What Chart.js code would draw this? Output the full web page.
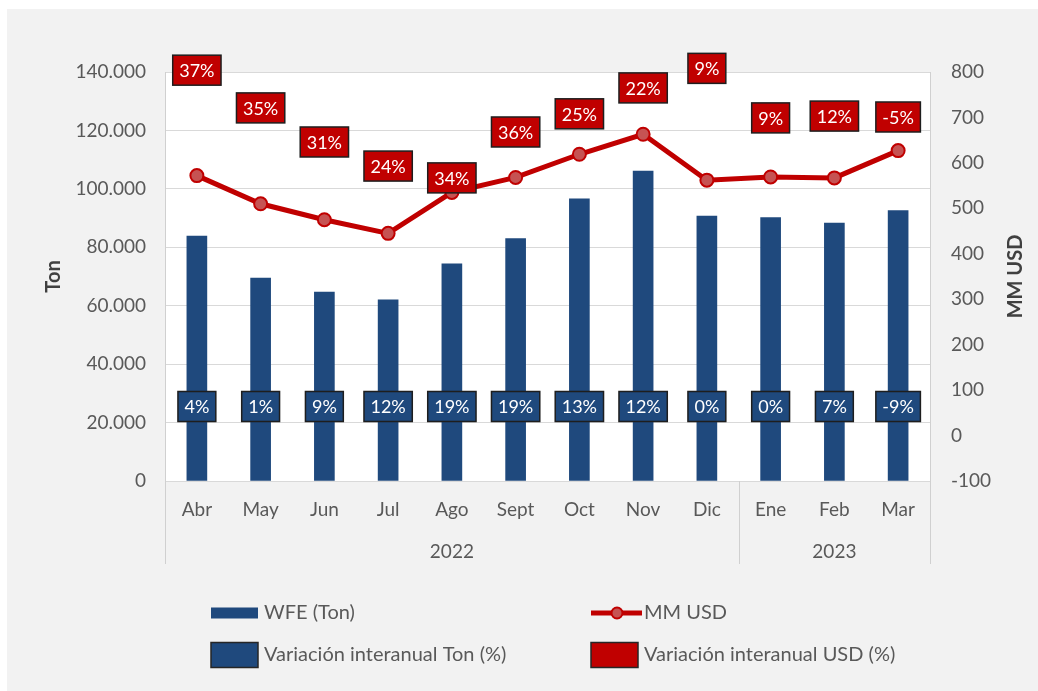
<!DOCTYPE html>
<html><head><meta charset="utf-8">
<script src="https://cdn.jsdelivr.net/npm/chart.js@4.4.1/dist/chart.umd.min.js"></script>
<style>html,body{margin:0;padding:0;background:#fff;overflow:hidden}</style>
</head><body>
<canvas id="c" width="1038" height="691"></canvas>
<script>
// ---- data ----
const months = ['Abr','May','Jun','Jul','Ago','Sept','Oct','Nov','Dic','Ene','Feb','Mar'];
const years = ['2022','2023'];
const yearFirstIdx = [0, 9];
const yearLastIdx = [8, 11];
const wfeTon = [83800, 69500, 64700, 62000, 74300, 83000, 96600, 106100, 90700, 90200, 88300, 92600];
const mmUsd = [572, 510, 475, 445, 535, 568, 619, 663, 562, 569, 567, 627];
const varTonPct = [4, 1, 9, 12, 19, 19, 13, 12, 0, 0, 7, -9];
const varUsdPct = [37, 35, 31, 24, 34, 36, 25, 22, 9, 9, 12, -5];
const tonTicks = [0, 20000, 40000, 60000, 80000, 100000, 120000, 140000];
const usdTicks = [-100, 0, 100, 200, 300, 400, 500, 600, 700, 800];
// label anchor levels (in axis units)
const tonLabelLevel = 25500;
const usdLabelLevel = [804, 721, 646, 593, 567, 668, 708, 765, 808, 699, 703, 701];
const legendNames = ['WFE (Ton)', 'MM USD', 'Variación interanual Ton (%)', 'Variación interanual USD (%)'];

// ---- styles ----
const BLUE = '#1f497d', RED = '#c00000', TXT = '#595959';
const FONT = "Lato, 'Open Sans', sans-serif";
Chart.defaults.font.family = FONT;
Chart.defaults.font.size = 19;
Chart.defaults.color = TXT;

const fmt = v => String(v).replace(/\B(?=(\d{3})+(?!\d))/g, '.');

function box(ctx, cx, cy, text, fill) {
  ctx.font = '18px ' + FONT;
  const w = ctx.measureText(text).width + 13, h = 30;
  ctx.fillStyle = fill;
  ctx.fillRect(cx - w / 2, cy - h / 2, w, h);
  ctx.lineWidth = 1.5;
  ctx.strokeStyle = '#1e1e1e';
  ctx.strokeRect(cx - w / 2, cy - h / 2, w, h);
  ctx.fillStyle = '#ffffff';
  ctx.textAlign = 'center';
  ctx.textBaseline = 'middle';
  ctx.fillText(text, cx, cy + 1);
}

const bgPlugin = {
  id: 'bg',
  beforeDraw(chart) {
    const { ctx, chartArea: a } = chart;
    ctx.save();
    ctx.fillStyle = '#ffffff';
    ctx.fillRect(0, 0, chart.width, chart.height);
    ctx.fillStyle = '#f2f2f2';
    ctx.fillRect(7, 9, chart.width - 7, chart.height - 9);
    ctx.fillStyle = '#ffffff';
    ctx.fillRect(a.left, a.top, a.right - a.left, a.bottom - a.top);
    ctx.restore();
  }
};

const overlayPlugin = {
  id: 'overlay',
  afterDraw(chart) {
    const { ctx, chartArea: a, scales } = chart;
    const xs = scales.x, yl = scales.y, yr = scales.y1;
    ctx.save();
    // group separators in the category area
    ctx.strokeStyle = '#d0d0d0';
    ctx.lineWidth = 1;
    const sepBottom = a.bottom + 83;
    const seps = [a.left, a.right];
    for (let g = 1; g < years.length; g++) {
      seps.push((xs.getPixelForValue(yearLastIdx[g - 1]) + xs.getPixelForValue(yearFirstIdx[g])) / 2);
    }
    seps.forEach(x => {
      ctx.beginPath();
      ctx.moveTo(Math.round(x) + 0.5, a.bottom);
      ctx.lineTo(Math.round(x) + 0.5, sepBottom);
      ctx.stroke();
    });
    // year labels
    ctx.fillStyle = TXT;
    ctx.font = '19px ' + FONT;
    ctx.textAlign = 'center';
    ctx.textBaseline = 'middle';
    years.forEach((y, g) => {
      const cx = (xs.getPixelForValue(yearFirstIdx[g]) + xs.getPixelForValue(yearLastIdx[g])) / 2;
      ctx.fillText(y, cx, a.bottom + 71);
    });
    // data label boxes
    months.forEach((m, i) => {
      const x = xs.getPixelForValue(i);
      box(ctx, x, yl.getPixelForValue(tonLabelLevel), varTonPct[i] + '%', BLUE);
      box(ctx, x, yr.getPixelForValue(usdLabelLevel[i]), varUsdPct[i] + '%', RED);
    });
    // axis titles
    ctx.fillStyle = '#404040';
    ctx.font = 'bold 20px ' + FONT;
    const midY = (a.top + a.bottom) / 2;
    ctx.save();
    ctx.translate(54, midY);
    ctx.rotate(-Math.PI / 2);
    ctx.fillText('Ton', 0, 0);
    ctx.restore();
    ctx.save();
    ctx.translate(1016, midY);
    ctx.rotate(-Math.PI / 2);
    ctx.fillText('MM USD', 0, 0);
    ctx.restore();
    // legend
    ctx.font = '20px ' + FONT;
    ctx.textAlign = 'left';
    ctx.fillStyle = TXT;
    const c1 = 211, c2 = 591, r1 = 613, r2 = 655;
    ctx.fillStyle = BLUE;
    ctx.fillRect(c1, r1 - 5.5, 47, 11);
    ctx.fillStyle = TXT;
    ctx.fillText(legendNames[0], c1 + 53, r1);
    ctx.strokeStyle = RED;
    ctx.lineWidth = 5;
    ctx.beginPath(); ctx.moveTo(c2, r1); ctx.lineTo(c2 + 51, r1); ctx.stroke();
    ctx.beginPath(); ctx.arc(c2 + 26, r1, 5.5, 0, Math.PI * 2);
    ctx.fillStyle = '#c65353'; ctx.fill();
    ctx.lineWidth = 2; ctx.stroke();
    ctx.fillStyle = TXT;
    ctx.fillText(legendNames[1], c2 + 53, r1);
    [[c1, BLUE, legendNames[2]], [c2, RED, legendNames[3]]].forEach(([x, col, name]) => {
      ctx.fillStyle = col;
      ctx.fillRect(x, r2 - 12.5, 47, 25);
      ctx.lineWidth = 1.5;
      ctx.strokeStyle = '#262626';
      ctx.strokeRect(x, r2 - 12.5, 47, 25);
      ctx.fillStyle = TXT;
      ctx.fillText(name, x + 53, r2);
    });
    ctx.restore();
  }
};

new Chart(document.getElementById('c'), {
  data: {
    labels: months,
    datasets: [
      {
        type: 'line', label: legendNames[1], data: mmUsd, yAxisID: 'y1',
        borderColor: RED, borderWidth: 5, tension: 0,
        pointRadius: 6.5, pointBackgroundColor: '#c65353', pointBorderColor: RED, pointBorderWidth: 2,
        order: 0
      },
      {
        type: 'bar', label: legendNames[0], data: wfeTon, yAxisID: 'y',
        backgroundColor: BLUE, barThickness: 20, order: 1
      }
    ]
  },
  options: {
    responsive: false, animation: false,
    layout: { padding: { left: 8, right: 8, top: 72, bottom: 110 } },
    plugins: { legend: { display: false }, tooltip: { enabled: false } },
    scales: {
      x: {
        grid: { display: false, drawTicks: false }, border: { display: false },
        ticks: { padding: 17, maxRotation: 0, autoSkip: false, color: TXT },
        afterFit(s) { s.height = 100; }
      },
      y: {
        position: 'left', min: tonTicks[0], max: tonTicks[tonTicks.length - 1],
        grid: { color: '#d9d9d9', lineWidth: 1, drawTicks: false },
        border: { display: true, color: '#d0d0d0' },
        ticks: { padding: 19, color: TXT, callback: v => fmt(v) },
        afterBuildTicks(s) { s.ticks = tonTicks.map(v => ({ value: v })); },
        afterFit(s) { s.width = 157; }
      },
      y1: {
        position: 'right', min: usdTicks[0], max: usdTicks[usdTicks.length - 1],
        grid: { display: false, drawTicks: false },
        border: { display: true, color: '#d0d0d0' },
        ticks: { padding: 21, color: TXT },
        afterBuildTicks(s) { s.ticks = usdTicks.map(v => ({ value: v })); },
        afterFit(s) { s.width = 100; }
      }
    }
  },
  plugins: [bgPlugin, overlayPlugin]
});
</script>
</body></html>
